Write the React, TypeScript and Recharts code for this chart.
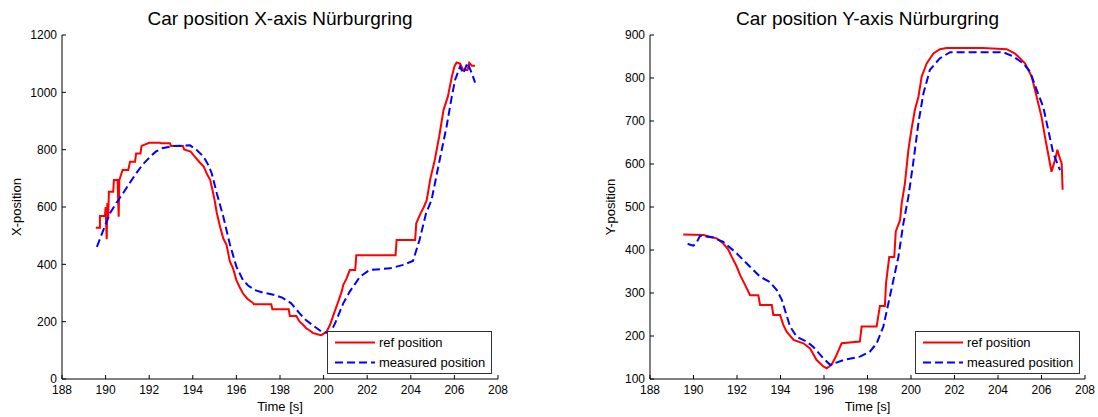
import React from 'react';
import { LineChart, Line, XAxis, YAxis, Legend } from 'recharts';

const FONT = '"Liberation Sans", Arial, Helvetica, sans-serif';

// ---- axis ticks & labels ----
const timeTicks = [188, 190, 192, 194, 196, 198, 200, 202, 204, 206, 208];
const xPosTicks = [0, 200, 400, 600, 800, 1000, 1200];
const yPosTicks = [100, 200, 300, 400, 500, 600, 700, 800, 900];
const seriesNames = ['ref position', 'measured position'];
const titles = ['Car position X-axis Nürburgring', 'Car position Y-axis Nürburgring'];
const yLabels = ['X-position', 'Y-position'];
const xLabel = 'Time [s]';

// ---- X-axis: reference position ----
const refXTime = [
  189.55, 189.74, 189.74, 189.97, 190.0, 190.05, 190.08, 190.12, 190.15, 190.35,
  190.38, 190.55, 190.6, 190.63, 190.78, 191.04, 191.12, 191.35, 191.4, 191.6,
  191.65, 192.0, 192.5, 192.55, 192.95, 193.0, 193.55, 193.6, 193.9, 194.1,
  194.3, 194.5, 194.65, 194.8, 194.9, 195.0, 195.1, 195.25, 195.4, 195.55,
  195.7, 195.85, 196.0, 196.15, 196.3, 196.5, 196.78, 196.8, 197.6, 197.65,
  198.4, 198.45, 198.75, 198.9, 199.05, 199.2, 199.35, 199.5, 199.75, 199.9,
  200.14, 200.3, 200.45, 200.6, 200.7, 200.85, 200.9, 201.05, 201.2, 201.45,
  201.5, 203.3, 203.35, 204.2, 204.25, 204.45, 204.6, 204.73, 204.9, 205.1,
  205.3, 205.5, 205.7, 205.88, 206.0, 206.1, 206.26, 206.4, 206.6, 206.68,
  206.8, 206.95,
];
const refXPos = [
  528, 528, 569, 569, 600, 488, 614, 560, 653, 653,
  694, 694, 566, 694, 729, 729, 758, 758, 787, 787,
  813, 824, 824, 822, 822, 813, 813, 801, 793, 775,
  757, 741, 715, 694, 660, 624, 580, 531, 490, 467,
  410, 385, 345, 320, 299, 280, 264, 261, 261, 243,
  243, 220, 220, 200, 190, 177, 170, 161, 155, 153,
  165, 190, 223, 255, 276, 310, 328, 350, 380, 380,
  432, 432, 485, 485, 543, 578, 600, 624, 700, 764,
  845, 938, 985, 1054, 1090, 1104, 1100, 1078, 1078, 1103,
  1093, 1093,
];

// ---- X-axis: measured position ----
const measXTime = [
  189.6, 189.9, 190.2, 190.5, 190.8, 191.1, 191.4, 191.7, 192.04, 192.3,
  192.6, 193.1, 193.87, 194.18, 194.5, 194.7, 194.87, 195.1, 195.4, 195.7,
  196.0, 196.3, 196.55, 196.85, 197.2, 197.65, 198.1, 198.5, 198.9, 199.2,
  199.5, 199.9, 200.3, 200.56, 200.9, 201.2, 201.67, 202.1, 203.05, 203.65,
  204.1, 204.4, 204.7, 204.95, 205.34, 205.64, 205.88, 206.03, 206.26, 206.4,
  206.6, 206.8, 206.95,
];
const measXPos = [
  461, 520, 578, 615, 648, 683, 717, 748, 775, 793,
  805, 813, 815, 799, 775, 748, 717, 648, 566, 470,
  392, 345, 325, 310, 302, 295, 284, 265, 229, 205,
  188, 165, 159, 200, 264, 305, 357, 380, 386, 398,
  412, 485, 578, 624, 770, 880, 985, 1043, 1090, 1066,
  1103, 1066, 1034,
];

// ---- Y-axis: reference position ----
const refYTime = [
  189.53, 190.45, 190.76, 191.07, 191.37, 191.6, 191.76, 191.99, 192.14, 192.37,
  192.6, 192.98, 193.06, 193.6, 193.67, 193.98, 194.13, 194.28, 194.6, 195.05,
  195.36, 195.66, 195.97, 196.12, 196.35, 196.58, 196.81, 197.65, 197.73, 198.42,
  198.57, 198.8, 198.85, 199.0, 199.23, 199.3, 199.5, 199.57, 199.72, 199.88,
  200.03, 200.18, 200.34, 200.49, 200.72, 201.03, 201.33, 201.64, 203.3, 204.4,
  204.78, 205.24, 205.55, 205.78, 206.0, 206.16, 206.3, 206.46, 206.62, 206.73,
  206.82, 206.93, 206.97,
];
const refYPos = [
  436, 435, 431, 427, 415, 401, 384, 361, 342, 319,
  295, 295, 272, 272, 249, 249, 226, 210, 191, 183,
  171, 144, 129, 125, 133, 156, 183, 187, 222, 222,
  270, 270, 322, 384, 384, 443, 470, 508, 555, 633,
  683, 726, 756, 803, 834, 857, 867, 870, 870, 867,
  857, 834, 803, 756, 710, 663, 625, 582, 609, 633,
  617, 601, 540,
];

// ---- Y-axis: measured position ----
const measYTime = [
  189.73, 189.85, 190.0, 190.15, 190.3, 190.9, 191.37, 191.99, 192.6, 193.06,
  193.5, 193.83, 194.06, 194.44, 194.75, 195.2, 195.5, 195.97, 196.28, 196.89,
  197.65, 198.1, 198.42, 198.73, 198.96, 199.19, 199.42, 199.65, 199.88, 200.1,
  200.34, 200.57, 200.87, 201.33, 201.8, 204.24, 204.7, 205.16, 205.47, 205.78,
  206.08, 206.31, 206.54, 206.7, 206.85,
];
const measYPos = [
  415, 412, 410, 418, 433, 429, 419, 392, 361, 338,
  326, 307, 284, 222, 198, 187, 175, 148, 133, 144,
  152, 163, 183, 222, 276, 330, 384, 462, 524, 602,
  695, 764, 819, 846, 860, 860, 850, 834, 815, 772,
  733, 679, 625, 605, 586,
];

const zip = (t: number[], v: number[]) => t.map((tt, i) => ({ t: tt, v: v[i] }));

const refX = zip(refXTime, refXPos);
const measX = zip(measXTime, measXPos);
const refY = zip(refYTime, refYPos);
const measY = zip(measYTime, measYPos);

const RED = '#ff0000';
const BLUE = '#0000ff';
const DASH = '8 4';

function LegendBox() {
  return (
    <div
      style={{
        width: 165,
        height: 43,
        border: '1px solid #333',
        background: '#fff',
        boxSizing: 'border-box',
        position: 'relative',
      }}
    >
      <svg width={163} height={41} style={{ position: 'absolute', left: 0, top: 0 }}>
        <line x1={7} x2={47} y1={10.5} y2={10.5} stroke={RED} strokeWidth={2} />
        <line x1={7} x2={47} y1={30.5} y2={30.5} stroke={BLUE} strokeWidth={2} strokeDasharray={DASH} />
        <text x={51} y={15} fontFamily={FONT} fontSize={13} fill="#000">
          {seriesNames[0]}
        </text>
        <text x={51} y={35} fontFamily={FONT} fontSize={13} fill="#000">
          {seriesNames[1]}
        </text>
      </svg>
    </div>
  );
}

type ChartProps = {
  left: number;
  width: number;
  refData: { t: number; v: number }[];
  measData: { t: number; v: number }[];
  yDomain: [number, number];
  yTicks: number[];
  yAxisWidth: number;
  rightMargin: number;
  legendLeft: number;
};

const tickStyle = { fontSize: 12, fill: '#000', fontFamily: FONT };

function PosChart(p: ChartProps) {
  return (
    <div style={{ position: 'absolute', left: p.left, top: 0 }}>
      <LineChart
        width={p.width}
        height={417}
        margin={{ top: 35, right: p.rightMargin, bottom: 0, left: 0 }}
      >
        <XAxis
          type="number"
          dataKey="t"
          domain={[188, 208]}
          ticks={timeTicks}
          interval={0}
          allowDataOverflow
          height={38}
          tickSize={-4}
          tickMargin={10}
          stroke="#000"
          tick={tickStyle}
        />
        <YAxis
          type="number"
          domain={p.yDomain}
          ticks={p.yTicks}
          interval={0}
          allowDataOverflow
          width={p.yAxisWidth}
          tickSize={-4}
          tickMargin={9}
          stroke="#000"
          tick={tickStyle}
        />
        <Line
          data={p.refData}
          dataKey="v"
          name={seriesNames[0]}
          type="linear"
          stroke={RED}
          strokeWidth={2}
          dot={false}
          activeDot={false}
          isAnimationActive={false}
        />
        <Line
          data={p.measData}
          dataKey="v"
          name={seriesNames[1]}
          type="linear"
          stroke={BLUE}
          strokeWidth={2}
          strokeDasharray={DASH}
          dot={false}
          activeDot={false}
          isAnimationActive={false}
        />
        <Legend
          layout="vertical"
          align="center"
          verticalAlign="middle"
          content={() => <LegendBox />}
          wrapperStyle={{ left: p.legendLeft, top: 331, width: 165, height: 43 }}
        />
      </LineChart>
    </div>
  );
}

export default function App() {
  return (
    <div
      style={{
        position: 'absolute',
        left: 0,
        top: 0,
        width: 1098,
        height: 417,
        background: '#fff',
        overflow: 'hidden',
      }}
    >
      <PosChart
        left={0}
        width={549}
        refData={refX}
        measData={measX}
        yDomain={[0, 1200]}
        yTicks={xPosTicks}
        yAxisWidth={62}
        rightMargin={51}
        legendLeft={327}
      />
      <PosChart
        left={549}
        width={549}
        refData={refY}
        measData={measY}
        yDomain={[100, 900]}
        yTicks={yPosTicks}
        yAxisWidth={101}
        rightMargin={13}
        legendLeft={366}
      />
      <svg
        width={1098}
        height={417}
        style={{ position: 'absolute', left: 0, top: 0, pointerEvents: 'none' }}
      >
        <text x={280} y={25} textAnchor="middle" fontFamily={FONT} fontSize={19} fill="#000">
          {titles[0]}
        </text>
        <text x={867.5} y={25} textAnchor="middle" fontFamily={FONT} fontSize={19} fill="#000">
          {titles[1]}
        </text>
        <text x={280} y={411} textAnchor="middle" fontFamily={FONT} fontSize={13} fill="#000">
          {xLabel}
        </text>
        <text x={867.5} y={411} textAnchor="middle" fontFamily={FONT} fontSize={13} fill="#000">
          {xLabel}
        </text>
        <text
          transform="translate(21,207) rotate(-90)"
          textAnchor="middle"
          fontFamily={FONT}
          fontSize={13}
          fill="#000"
        >
          {yLabels[0]}
        </text>
        <text
          transform="translate(615,207) rotate(-90)"
          textAnchor="middle"
          fontFamily={FONT}
          fontSize={13}
          fill="#000"
        >
          {yLabels[1]}
        </text>
      </svg>
    </div>
  );
}
